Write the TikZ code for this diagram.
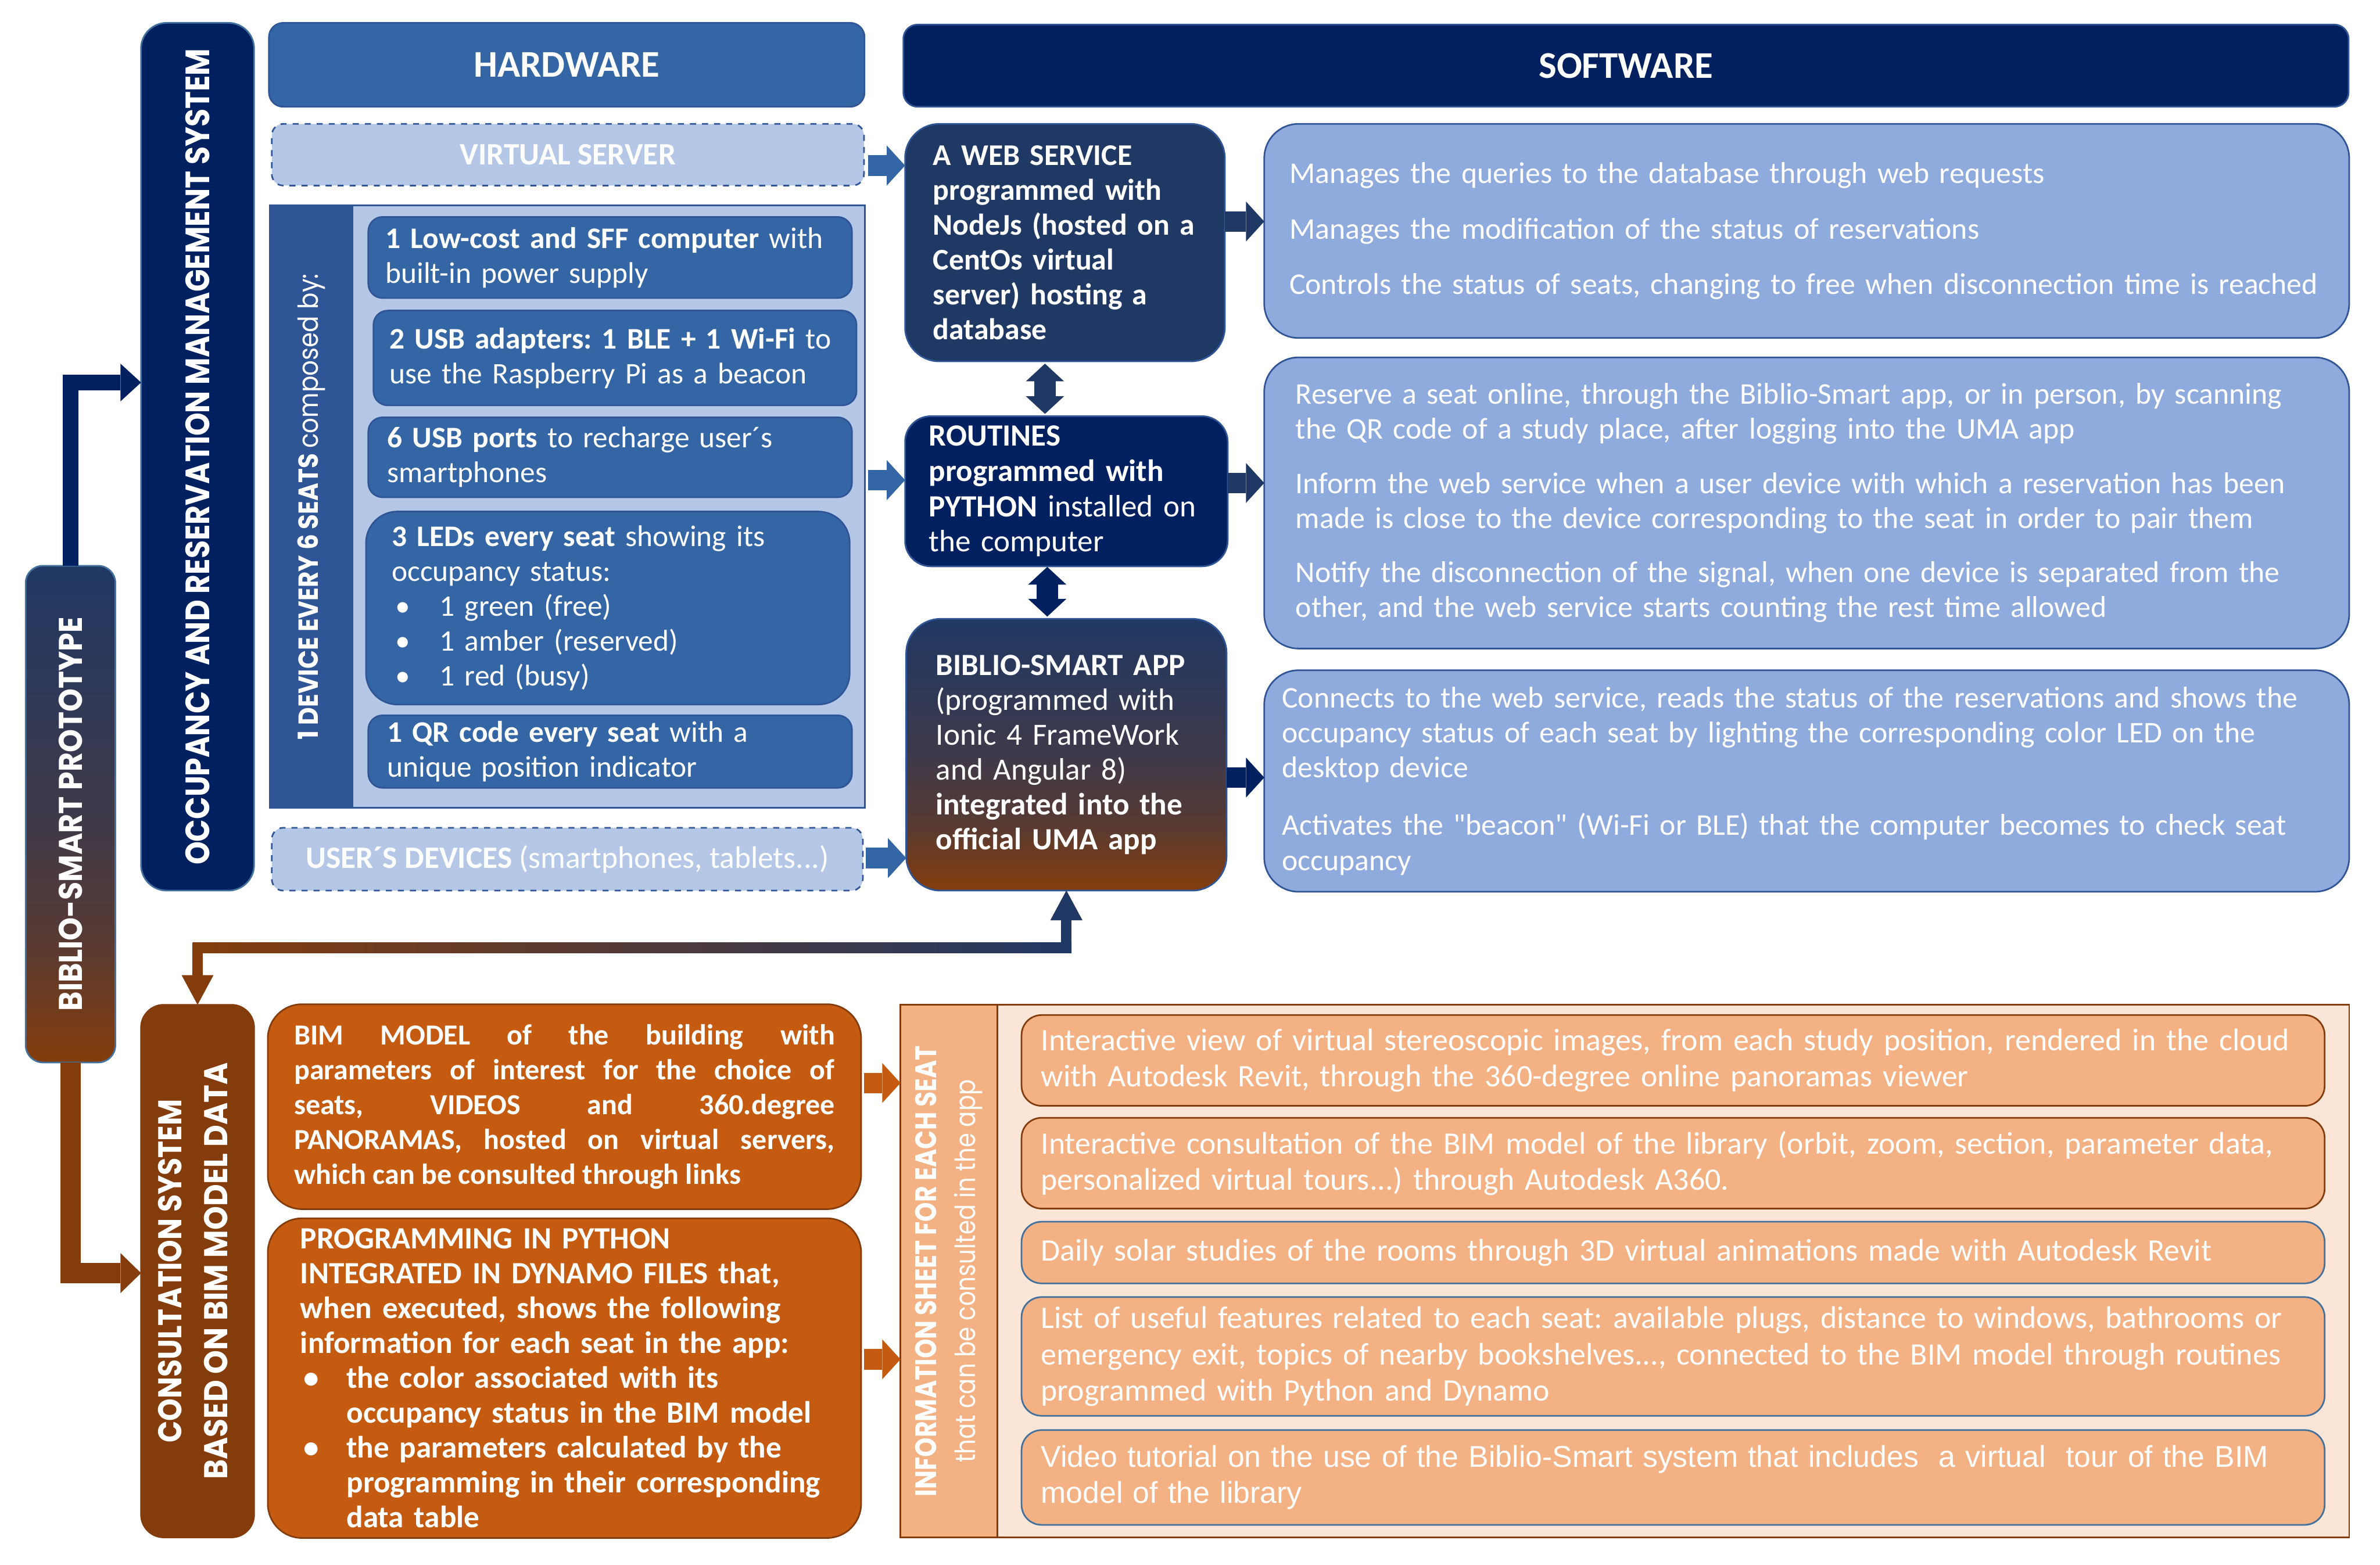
\documentclass[tikz,border=0pt]{standalone}
\usepackage{fontspec}
\usepackage{graphicx}
\setmainfont{Carlito}
\newfontfamily\plainf{Carlito}
\newfontfamily\gothicf{Poppins}
\newfontfamily\arialf{Liberation Sans}
\usetikzlibrary{arrows.meta}
\definecolor{navy}{HTML}{002060}
\definecolor{slate}{HTML}{203864}
\definecolor{hwblue}{HTML}{3465A5}
\definecolor{stripblue}{HTML}{2F5597}
\definecolor{paleblue}{HTML}{B4C7E7}
\definecolor{descblue}{HTML}{8FAADC}
\definecolor{edgeblue}{HTML}{41719C}
\definecolor{brownd}{HTML}{843C0C}
\definecolor{orangec}{HTML}{C55A11}
\definecolor{peach}{HTML}{F4B183}
\definecolor{peachbg}{HTML}{FBE5D6}
\colorlet{nbmidA}{slate!45!brownd}
\colorlet{nbmidB}{slate!70!brownd}
\pgfdeclareverticalshading{navybrown}{100bp}{color(0bp)=(brownd); color(25bp)=(brownd); color(37.5bp)=(nbmidA); color(50bp)=(nbmidB); color(75bp)=(slate); color(100bp)=(slate)}
\newcommand\rlab[3]{\resizebox{#1}{#2}{\gothicf #3}}
\newcommand\placebox[7]{\node[boxbase,#6,minimum width={(#4-#2)*1cm},minimum height={(#5-#3)*1cm}] (#1) at (#2,#3) {#7};}
\newcommand\hbul{\makebox[0.84cm][l]{\hspace{0.06cm}\textbullet}}
\newcommand\pbul{\makebox[0.81cm][l]{\hspace{0.06cm}\textbullet}}
\frenchspacing
\begin{document}
\frenchspacing
\begin{tikzpicture}[x=1cm,y=-1cm,
  boxbase/.style={anchor=north west,outer sep=0pt,inner sep=0pt,text=white,line width=0.8pt,font=\frenchspacing\fontsize{14.5}{17.4}\selectfont},
  hwfont/.style={font=\frenchspacing\fontsize{14.9}{17.4}\selectfont},
  inbox/.style={fill=hwblue,draw=stripblue,rounded corners=0.25cm,align=left,hwfont},
  dashbox/.style={fill=paleblue,draw=stripblue,dashed,rounded corners=0.2cm,font=\fontsize{15.5}{18}\selectfont},
  descbox/.style={fill=descblue,draw=stripblue,rounded corners=0.6cm,align=left,font=\frenchspacing\fontsize{15.0}{17.4}\selectfont},
  infobox/.style={fill=peach,rounded corners=0.35cm,align=left,text width=22.14cm,font=\frenchspacing\fontsize{15.6}{18.0}\selectfont},
  blockarrow/.style={line width=0.36cm,-{Triangle[length=0.32cm,width=0.70cm,line width=0pt]}},
  dblarrow/.style={line width=0.37cm,{Triangle[length=0.31cm,width=0.67cm,line width=0pt]}-{Triangle[length=0.31cm,width=0.67cm,line width=0pt]}},
  ]
\useasboundingbox (0,0) rectangle (41.68,27.41);

% ---------- left column ----------
\placebox{proto}{0.45}{9.91}{2.02}{18.61}{shade,shading=navybrown,draw=edgeblue,rounded corners=0.3cm}{\rotatebox{90}{\rlab{6.90cm}{0.41cm}{\bfseries BIBLIO-SMART PROTOTYPE}}}
\placebox{occ}{2.47}{0.40}{4.45}{15.60}{fill=navy,draw=edgeblue,rounded corners=0.45cm}{\rotatebox{90}{\rlab{14.30cm}{0.42cm}{\bfseries OCCUPANCY AND RESERVATION MANAGEMENT SYSTEM}}}
\placebox{consult}{2.47}{17.60}{4.45}{26.93}{fill=brownd,draw=brownd,rounded corners=0.4cm}{\rotatebox{90}{\begin{tabular}{@{}c@{}}\rlab{6.02cm}{0.41cm}{\bfseries CONSULTATION SYSTEM}\\[0.2cm]\rlab{7.30cm}{0.41cm}{\bfseries BASED ON BIM MODEL DATA}\end{tabular}}}

% ---------- hardware ----------
\placebox{hwhead}{4.71}{0.40}{15.14}{1.87}{fill=hwblue,draw=stripblue,rounded corners=0.25cm,font=\fontsize{18.8}{22}\selectfont\bfseries}{HARDWARE}
\placebox{vserver}{4.76}{2.17}{15.13}{3.25}{dashbox}{\textbf{VIRTUAL SERVER}}
\placebox{dev}{4.73}{3.60}{15.15}{14.15}{fill=paleblue,draw=stripblue}{}
\placebox{devstrip}{4.73}{3.60}{6.17}{14.15}{fill=stripblue,draw=stripblue}{\rotatebox{90}{\rlab{8.16cm}{0.36cm}{\bfseries 1 DEVICE EVERY 6 SEATS \mdseries composed by:}}}
\placebox{hwa}{6.45}{3.80}{14.92}{5.22}{inbox,text width=7.87cm}{\textbf{1 Low-cost and SFF computer} with\\built-in power supply}
\placebox{hwb}{6.54}{5.44}{15.00}{7.10}{inbox,text width=7.90cm}{\textbf{2 USB adapters: 1 BLE + 1 Wi-Fi} to\\use the Raspberry Pi as a beacon}
\placebox{hwc}{6.45}{7.31}{14.92}{8.71}{inbox,text width=7.81cm}{\textbf{6 USB ports} to recharge user´s\\smartphones}
\placebox{hwd}{6.41}{8.96}{14.88}{12.34}{inbox,rounded corners=0.55cm,text width=7.57cm}{\textbf{3 LEDs every seat} showing its\\occupancy status:\\\hbul 1 green (free)\\\hbul 1 amber (reserved)\\\hbul 1 red (busy)}
\placebox{hwe}{6.45}{12.53}{14.92}{13.80}{inbox,text width=7.81cm}{\textbf{1 QR code every seat} with a\\unique position indicator}
\placebox{users}{4.76}{14.50}{15.11}{15.60}{dashbox}{\textbf{USER´S DEVICES} (smartphones, tablets...)}

% ---------- software ----------
\placebox{swhead}{15.82}{0.43}{41.13}{1.87}{fill=navy,draw=stripblue,rounded corners=0.25cm,font=\fontsize{18.8}{22}\selectfont\bfseries}{SOFTWARE}
\placebox{web}{15.85}{2.17}{21.45}{6.33}{fill=slate,draw=stripblue,rounded corners=0.6cm,align=left,text width=4.62cm,font=\fontsize{15.0}{17.4}\selectfont\bfseries}{A WEB SERVICE\\programmed with\\NodeJs (hosted on a\\CentOs virtual\\server) hosting a\\database}
\placebox{routines}{15.85}{7.29}{21.50}{9.92}{fill=navy,draw=stripblue,rounded corners=0.45cm,align=left,text width=4.81cm,font=\fontsize{15.4}{17.6}\selectfont}{\textbf{ROUTINES}\\\textbf{programmed with}\\\textbf{PYTHON} installed on\\the computer}
\placebox{app}{15.87}{10.84}{21.48}{15.60}{shade,shading=navybrown,draw=stripblue,rounded corners=0.6cm,align=left,text width=4.57cm,font=\fontsize{15.4}{17.4}\selectfont}{\textbf{BIBLIO-SMART APP}\\(programmed with\\Ionic 4 FrameWork\\and Angular 8)\\\textbf{integrated into the}\\\textbf{official UMA app}}

\placebox{desc1}{22.14}{2.17}{41.14}{5.92}{descbox,text width=18.12cm}{Manages the queries to the database through web requests\\[0.36cm]Manages the modification of the status of reservations\\[0.36cm]Controls the status of seats, changing to free when disconnection time is reached}
\placebox{desc2}{22.14}{6.26}{41.14}{11.36}{descbox,text width=17.90cm}{Reserve a seat online, through the Biblio-Smart app, or in person, by scanning\\the QR code of a study place, after logging into the UMA app\\[0.34cm]Inform the web service when a user device with which a reservation has been\\made is close to the device corresponding to the seat in order to pair them\\[0.34cm]Notify the disconnection of the signal, when one device is separated from the\\other, and the web service starts counting the rest time allowed}
\placebox{desc3}{22.14}{11.74}{41.14}{15.62}{descbox,text width=18.38cm,font=\plainf\frenchspacing\fontsize{15.0}{17.4}\selectfont}{Connects to the web service, reads the status of the reservations and shows the\\occupancy status of each seat by lighting the corresponding color LED on the\\desktop device\\[0.40cm]Activates the "beacon" (Wi-Fi or BLE) that the computer becomes to check seat\\occupancy}

% ---------- consultation ----------
\placebox{bim}{4.69}{17.59}{15.08}{21.18}{fill=orangec,draw=brownd,rounded corners=0.6cm,align=justify,text width=9.47cm,font=\frenchspacing\fontsize{14.5}{17.4}\selectfont\bfseries}{BIM MODEL of the building with\linebreak parameters of interest for the choice of\linebreak seats, VIDEOS and 360.degree\linebreak PANORAMAS, hosted on virtual servers,\linebreak which can be consulted through links}
\placebox{prog}{4.69}{21.34}{15.08}{26.94}{fill=orangec,draw=brownd,rounded corners=0.6cm,align=left,text width=9.25cm,font=\frenchspacing\fontsize{15.4}{17.4}\selectfont\bfseries}{PROGRAMMING IN PYTHON\\INTEGRATED IN DYNAMO FILES that,\\when executed, shows the following\\information for each seat in the app:\\\pbul the color associated with its\\\hspace*{0.81cm}occupancy status in the BIM model\\\pbul the parameters calculated by the\\\hspace*{0.81cm}programming in their corresponding\\\hspace*{0.81cm}data table}

\placebox{info}{15.77}{17.60}{41.14}{26.93}{fill=peachbg,draw=brownd}{}
\placebox{infostrip}{15.77}{17.60}{17.47}{26.93}{fill=peach,draw=brownd}{\rotatebox{90}{\begin{tabular}{@{}c@{}}\rlab{7.90cm}{0.37cm}{\bfseries INFORMATION SHEET FOR EACH SEAT}\\[0.07cm]\rlab{6.71cm}{0.37cm}{that can be consulted in the app}\end{tabular}}}
\placebox{ib1}{17.89}{17.78}{40.71}{19.37}{infobox,draw=brownd}{Interactive view of virtual stereoscopic images, from each study position, rendered in the cloud\\with Autodesk Revit, through the 360-degree online panoramas viewer}
\placebox{ib2}{17.89}{19.58}{40.71}{21.17}{infobox,draw=brownd}{Interactive consultation of the BIM model of the library (orbit, zoom, section, parameter data,\\personalized virtual tours...) through Autodesk A360.}
\placebox{ib3}{17.89}{21.40}{40.71}{22.48}{infobox,draw=edgeblue}{Daily solar studies of the rooms through 3D virtual animations made with Autodesk Revit}
\placebox{ib4}{17.89}{22.72}{40.71}{24.80}{infobox,draw=edgeblue}{List of useful features related to each seat: available plugs, distance to windows, bathrooms or\\emergency exit, topics of nearby bookshelves..., connected to the BIM model through routines\\programmed with Python and Dynamo}
\placebox{ib5}{17.89}{25.05}{40.71}{26.71}{infobox,draw=edgeblue,font=\arialf\frenchspacing\fontsize{15.0}{17.9}\selectfont}{Video tutorial on the use of the Biblio-Smart system that includes\ \ a virtual\ \ tour of the BIM\\model of the library}

% ---------- connectors ----------
\draw[blockarrow,draw=hwblue,shorten <=0.07cm] (vserver.east |- 0,2.90) -- (web.west |- 0,2.90);
\draw[blockarrow,draw=hwblue,shorten <=0.05cm] (dev.east |- 0,8.41) -- (routines.west |- 0,8.41);
\draw[blockarrow,draw=hwblue,shorten <=0.05cm] (users.east |- 0,15.03) -- (app.west |- 0,15.03);
\draw[blockarrow,draw=slate] (web.east |- 0,3.88) -- (desc1.west |- 0,3.88);
\draw[blockarrow,draw=slate] (routines.east |- 0,8.46) -- (desc2.west |- 0,8.46);
\draw[blockarrow,draw=navy] (app.east |- 0,13.62) -- (desc3.west |- 0,13.62);
\draw[dblarrow,draw=slate,shorten <=0.04cm,shorten >=0.04cm] (web.south -| 18.30,0) -- (routines.north -| 18.30,0);
\draw[dblarrow,draw=navy,shorten <=0.01cm,shorten >=0.04cm] (routines.south -| 18.34,0) -- (app.north -| 18.34,0);
\draw[blockarrow,draw=orangec,shorten <=0.05cm] (bim.east |- 0,18.97) -- (info.west |- 0,18.97);
\draw[blockarrow,draw=orangec,shorten <=0.05cm] (prog.east |- 0,23.81) -- (info.west |- 0,23.81);

\draw[draw=navy,line width=0.27cm,-{Triangle[length=0.36cm,width=0.66cm,line width=0pt]}] (proto.north) |- (occ.west |- 0,6.70);
\draw[draw=brownd,line width=0.35cm,-{Triangle[length=0.36cm,width=0.70cm,line width=0pt]}] (proto.south) |- (consult.west |- 0,22.30);

\draw[draw=brownd,line width=0.18cm,{Triangle[length=0.52cm,width=0.56cm,line width=0pt]}-{Triangle[length=0.52cm,width=0.56cm,line width=0pt]}] (app.south) -- (app.south |- 0,16.60) -| (consult.north);
\shade[left color=brownd,right color=slate] (3.375,16.51) rectangle (18.765,16.69);
\draw[draw=slate,line width=0.18cm,-{Triangle[length=0.52cm,width=0.56cm,line width=0pt]}] (app.south |- 0,16.69) -- (app.south);
\end{tikzpicture}
\end{document}
